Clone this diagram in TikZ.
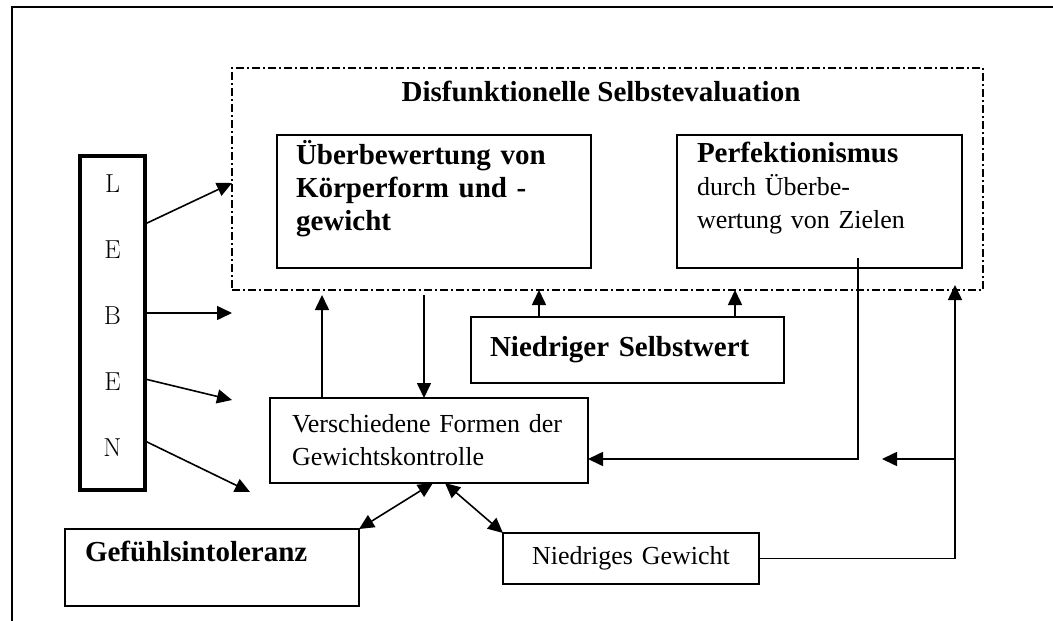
\documentclass[tikz,border=0pt]{standalone}
\usepackage{fontspec}
\setmainfont{Liberation Serif}
\usetikzlibrary{arrows.meta}

\newcommand{\fett}{\fontsize{29}{33}\selectfont\bfseries}
\newcommand{\schrift}{\fontsize{26}{33}\selectfont}

\tikzset{
  box/.style={draw, line width=1.6pt, anchor=north west, align=left, outer sep=0pt, inner ysep=0pt, inner xsep=19pt},
  evalbox/.style={draw, line width=1.6pt, dash pattern=on 8pt off 3pt on 2pt off 3pt, anchor=north west, outer sep=0pt, inner sep=0pt},
  lebenbox/.style={draw, line width=4pt, anchor=north west, outer sep=0pt, inner sep=0pt, align=center, text depth=14pt, font=\fontfamily{lmr}\fontsize{26}{66}\selectfont},
  pfeil/.style={line width=1.6pt, -{Triangle[length=15pt,width=14pt]}},
  doppelpfeil/.style={line width=1.6pt, {Triangle[length=15pt,width=14pt]}-{Triangle[length=15pt,width=14pt]}},
  rahmen/.style={line width=2.4pt}
}

\begin{document}
\begin{tikzpicture}[x=1pt,y=-1pt]
\useasboundingbox (0,0) rectangle (1053,621);
\draw[rahmen] (12,621) -- (12,7) -- (1053,7);

\node[evalbox, minimum width=751pt, minimum height=222pt] (eval) at (232,68) {};
\node[anchor=base, font=\fett] (evaltitel) at (601,101) {Disfunktionelle Selbstevaluation};

\node[box, font=\fett, text width=276pt, minimum height=133pt] (ueber) at (277,135) {Überbewertung von\\Körperform und -\\gewicht\\\mbox{}};
\node[box, font=\schrift, inner xsep=20pt, text width=245pt, minimum height=133pt] (perf) at (677,135) {{\fett Perfektionismus}\\durch Überbe-\\wertung von Zielen\\\mbox{}};
\node[box, font=\fett, text width=275pt, minimum height=66pt] (selbstwert) at (471,317) {Niedriger Selbstwert};
\node[box, font=\schrift, inner xsep=22pt, text width=274pt, minimum height=85pt] (kontrolle) at (270,398) {Verschiedene Formen der\\Gewichtskontrolle};
\node[box, font=\fett, inner xsep=20pt, text width=254pt, minimum height=77pt] (gefuehl) at (65,529) {Gefühlsintoleranz\\\mbox{}};
\node[box, font=\schrift, inner xsep=29pt, text width=198pt, minimum height=51pt] (gewicht) at (503,533) {Niedriges Gewicht};
\node[lebenbox, minimum width=65pt, minimum height=334pt] (leben) at (80,156) {L\\E\\B\\E\\N};

\coordinate (lb1) at (232,183);
\coordinate (lb2) at (232,313);
\coordinate (lb3) at (232,400);
\coordinate (lb4) at (250,492);
\draw[pfeil] ([yshift=-68pt]leben.north east) -- (lb1);
\draw[pfeil] ([yshift=-157pt]leben.north east) -- (lb2);
\draw[pfeil] ([yshift=-223pt]leben.north east) -- (lb3);
\draw[pfeil] ([yshift=-285pt]leben.north east) -- (lb4);

\coordinate (k1) at ([xshift=52pt]kontrolle.north west);
\coordinate (k2) at ([xshift=154pt]kontrolle.north west);
\draw[pfeil, shorten >=5pt] (k1) -- (k1 |- eval.south);
\draw[pfeil, shorten <=5pt] (k2 |- eval.south) -- (k2);

\coordinate (s1) at ([xshift=68pt]selbstwert.north west);
\coordinate (s2) at ([xshift=264pt]selbstwert.north west);
\draw[pfeil] (s1) -- (s1 |- eval.south);
\draw[pfeil] (s2) -- (s2 |- eval.south);

\coordinate (p1) at ([xshift=181pt,yshift=10pt]perf.south west);
\coordinate (k3) at ([yshift=-61pt]kontrolle.north east);
\draw[pfeil] (p1) |- (k3);

\coordinate (r1) at ([xshift=196pt]gewicht.east);
\coordinate (fb) at (882,459);
\draw[pfeil, shorten >=-5pt] (gewicht.east) -- (r1) -- (r1 |- eval.south);
\draw[pfeil] (r1 |- fb) -- (fb);

\draw[doppelpfeil] (gefuehl.north east) -- ([xshift=163pt]kontrolle.south west);
\draw[doppelpfeil] ([xshift=175pt]kontrolle.south west) -- (gewicht.north west);
\end{tikzpicture}
\end{document}
